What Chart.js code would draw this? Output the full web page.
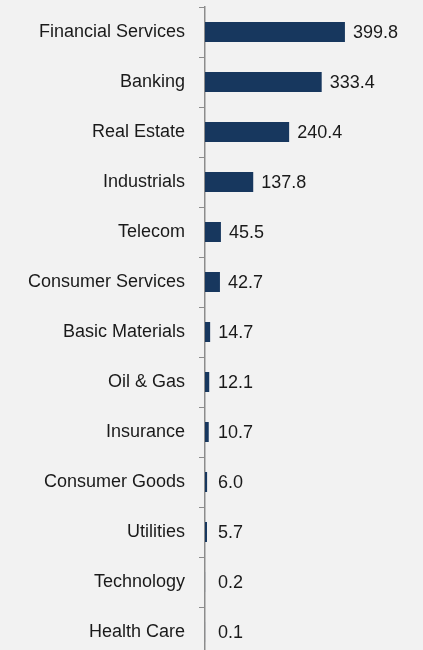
<!DOCTYPE html>
<html>
<head>
<meta charset="utf-8">
<script src="https://cdn.jsdelivr.net/npm/chart.js@4/dist/chart.umd.min.js"></script>
<style>
html,body{margin:0;padding:0;background:#f2f2f2;overflow:hidden;}
canvas{display:block;}
</style>
</head>
<body>
<canvas id="chart" width="423" height="660"></canvas>
<script>
// ---------------- Dados ----------------
const sectors = ["Financial Services","Banking","Real Estate","Industrials","Telecom","Consumer Services","Basic Materials","Oil & Gas","Insurance","Consumer Goods","Utilities","Technology","Health Care"];
const values = [399.8,333.4,240.4,137.8,45.5,42.7,14.7,12.1,10.7,6.0,5.7,0.2,0.1];

const FONT = '"Liberation Sans", Arial, sans-serif';
const barColor = "#17375e";
const axisColor = "#8c8c8c";

// rótulos de valor à direita das barras
const valueLabels = {
  id:"valueLabels",
  afterDatasetsDraw(chart){
    const ctx = chart.ctx;
    const meta = chart.getDatasetMeta(0);
    ctx.save();
    ctx.font = "18px " + FONT;
    ctx.fillStyle = "#1a1a1a";
    ctx.textAlign = "left";
    ctx.textBaseline = "middle";
    meta.data.forEach((bar,i)=>{
      const x = Math.max(bar.x + 8, chart.chartArea.left + 13);
      ctx.fillText(values[i].toFixed(1), x, bar.y + 1);
    });
    ctx.restore();
  }
};

new Chart(document.getElementById("chart"),{
  type:"bar",
  data:{labels:sectors, datasets:[{data:values, backgroundColor:barColor, borderWidth:0, barPercentage:0.4, categoryPercentage:1}]},
  options:{
    indexAxis:"y",
    responsive:false,
    animation:false,
    layout:{padding:{top:7,bottom:3,right:8,left:0}},
    plugins:{legend:{display:false}, tooltip:{enabled:false}},
    scales:{
      x:{display:false, min:0, max:600},
      y:{
        afterFit(scale){ scale.width = 205; scale.paddingTop = 0; scale.paddingBottom = 0; },
        border:{display:true, color:axisColor, width:1.5},
        grid:{offset:true, drawOnChartArea:false, drawTicks:true, tickLength:6, color:axisColor, lineWidth:1},
        ticks:{color:"#1a1a1a", padding:14, font:{family:FONT, size:18}}
      }
    }
  },
  plugins:[valueLabels]
});
</script>
</body>
</html>
